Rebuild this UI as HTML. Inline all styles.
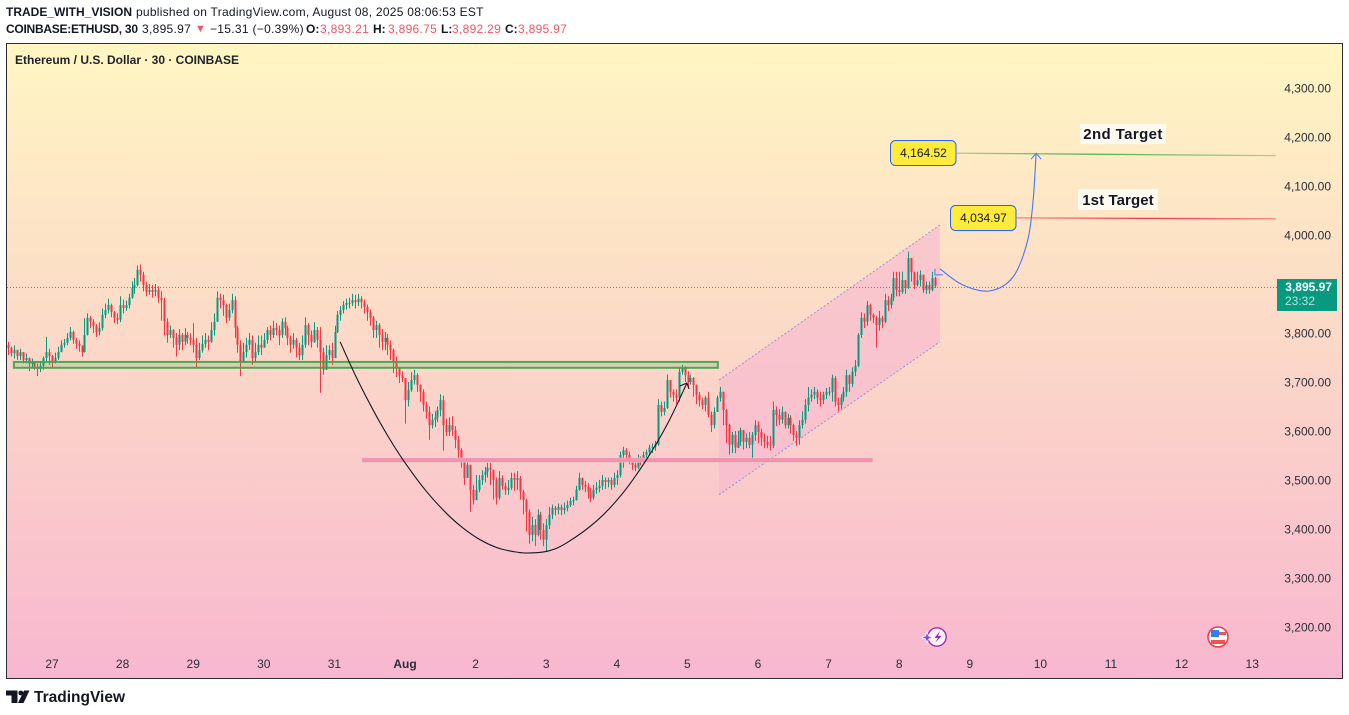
<!DOCTYPE html>
<html lang="en">
<head>
<meta charset="utf-8">
<title>ETHUSD chart</title>
<style>
html,body{margin:0;padding:0;background:#fff;width:1349px;height:715px;overflow:hidden}
body{position:relative;font-family:"Liberation Sans","DejaVu Sans",sans-serif;color:#131722}
.hdr{position:absolute;font-size:12px;line-height:16px;white-space:nowrap;color:#131722}
.b{font-weight:700}
.n{letter-spacing:.3px}
.r{color:#f7525f}
#chart{position:absolute;left:0;top:0}
text{font-family:"Liberation Sans","DejaVu Sans",sans-serif}
</style>
</head>
<body>
<div class="hdr b" style="left:6px;top:4px">TRADE_WITH_VISION</div>
<div class="hdr" style="left:136px;top:4px;letter-spacing:.26px">published on TradingView.com, August 08, 2025 08:06:53 EST</div>

<div class="hdr b" style="left:6px;top:21px;letter-spacing:-.26px">COINBASE:ETHUSD, 30</div>
<div class="hdr n" style="left:142px;top:21px">3,895.97</div>
<div class="hdr r" style="left:195px;top:21px;font-size:11px">▼</div>
<div class="hdr n" style="left:210px;top:21px">−15.31 (−0.39%)</div>
<div class="hdr b" style="left:306px;top:21px">O:</div>
<div class="hdr n r" style="left:320px;top:21px">3,893.21</div>
<div class="hdr b" style="left:373px;top:21px">H:</div>
<div class="hdr n r" style="left:388px;top:21px">3,896.75</div>
<div class="hdr b" style="left:441px;top:21px">L:</div>
<div class="hdr n r" style="left:452px;top:21px">3,892.29</div>
<div class="hdr b" style="left:505px;top:21px">C:</div>
<div class="hdr n r" style="left:518px;top:21px">3,895.97</div>

<svg id="chart" width="1349" height="715" viewBox="0 0 1349 715" style="pointer-events:none" xmlns="http://www.w3.org/2000/svg">
  <defs>
    <linearGradient id="bgGrad" x1="0" y1="0" x2="0" y2="1">
      <stop offset="0" stop-color="#fff6c2"/>
      <stop offset="1" stop-color="#f8b7cf"/>
    </linearGradient>
    <linearGradient id="greenFade" x1="0" y1="0" x2="1" y2="0">
      <stop offset="0" stop-color="#4caf50" stop-opacity=".45"/>
      <stop offset=".4" stop-color="#4caf50" stop-opacity="1"/>
      <stop offset="1" stop-color="#4caf50" stop-opacity=".45"/>
    </linearGradient>
    <linearGradient id="redFade" x1="0" y1="0" x2="1" y2="0">
      <stop offset="0" stop-color="#f23645" stop-opacity=".55"/>
      <stop offset=".5" stop-color="#f23645" stop-opacity="1"/>
      <stop offset="1" stop-color="#f23645" stop-opacity=".55"/>
    </linearGradient>
  </defs>
  <rect x="6.5" y="43.5" width="1336" height="635" fill="url(#bgGrad)" stroke="#2a2e39" stroke-width="1"/>
  <g id="channelLayer"></g>
  <g id="candleLayer"></g>
  <g id="overlayLayer"></g>
  <g id="axisLayer"></g>

  <g>
    <rect x="1080" y="124" width="86" height="20" fill="#fffaf0"/>
    <text x="1123" y="139" text-anchor="middle" font-size="15" font-weight="700" letter-spacing=".4" fill="#131722">2nd Target</text>
  </g>
  <g>
    <rect x="1078" y="189" width="80" height="21" fill="#fffaf0"/>
    <text x="1118" y="205" text-anchor="middle" font-size="15" font-weight="700" letter-spacing=".1" fill="#131722">1st Target</text>
  </g>
  <g>
    <rect x="890.5" y="140.5" width="65.5" height="25" rx="5" fill="#ffeb3b" stroke="#2962ff"/>
    <text x="923.5" y="157" text-anchor="middle" font-size="12" fill="#131722">4,164.52</text>
  </g>
  <g>
    <rect x="950.5" y="205.5" width="65.5" height="25" rx="5" fill="#ffeb3b" stroke="#2962ff"/>
    <text x="983.5" y="222" text-anchor="middle" font-size="12" fill="#131722">4,034.97</text>
  </g>

  <text x="15" y="64" font-size="12" font-weight="700" fill="#1f222b" textLength="224" lengthAdjust="spacingAndGlyphs">Ethereum / U.S. Dollar · 30 · COINBASE</text>

  <g>
    <rect x="1277" y="279" width="60" height="32" fill="#089981"/>
    <text x="1332" y="291" text-anchor="end" font-size="12" font-weight="700" fill="#fff">3,895.97</text>
    <text x="1285" y="305" font-size="12" fill="#b5e3d8">23:32</text>
  </g>

  <g>
    <circle cx="937" cy="637" r="10" fill="#fff"/>
    <circle cx="937" cy="637" r="9.2" fill="#fdf2fb" stroke="#9c27b0" stroke-width="1.4"/>
    <path d="M940 631 L934.5 638 H938 L935 643 L941.5 636 H938 Z" fill="#9c27b0"/>
    <path d="M927 632 L928.6 636 L932.5 637.5 L928.6 639 L927 643 L925.4 639 L921.5 637.5 L925.4 636 Z" fill="#7c4dff" stroke="#fff" stroke-width=".8"/>
  </g>
  <g>
    <circle cx="1218" cy="637" r="10" fill="#fff" stroke="#f23645" stroke-width="1.5"/>
    <rect x="1211" y="632" width="15" height="3" fill="#ef5350"/>
    <rect x="1211" y="640" width="14" height="4" fill="#ef5350"/>
    <rect x="1211" y="630" width="8" height="7" fill="#2f80ed"/>
  </g>

  <g>
    <path d="M6 690.5 H17.5 V703 H11.5 V695.5 H6 Z" fill="#131722"/>
    <circle cx="20.8" cy="693" r="2.4" fill="#131722"/>
    <path d="M24 690.5 H29.5 L23.5 703 H18 Z" fill="#131722"/>
    <text x="34" y="702" font-size="16" font-weight="700" fill="#131722" textLength="91" lengthAdjust="spacingAndGlyphs">TradingView</text>
  </g>
</svg>

<script>
// ---- chart data (30-minute view, one entry ≈ 1 hour, starts Jul 26) ----
const firstOpen = 3775;
const closes = [
3770,3759,3765,3753,3761,3745,3749,3737,3741,3731,3727,3733,3749,3761,3753,
3741,3749,3761,3776,3780,3790,3802,3786,3778,3774,3761,3796,3831,3823,3814,3802,3810,3837,3847,3857,3843,3831,3827,3857,
3851,3857,3872,3892,3898,3929,3919,3898,3884,3888,3884,3888,3872,3867,3823,3796,3806,3790,3776,3796,3782,3796,3790,3786,
3776,3749,3765,3778,3786,3782,3806,3823,3872,3867,3857,3831,3847,3867,3810,3776,3741,3761,3776,3786,3749,3761,3776,3770,
3786,3806,3796,3810,3806,3796,3823,3810,3790,3776,3786,3770,3755,3776,3816,3796,3782,3806,3786,3761,3725,3755,3765,3749,
3802,3837,3847,3857,3861,3861,3867,3863,3870,3863,3853,3843,3831,3806,3816,3796,3782,3790,3776,3765,3741,3729,3714,3708,
3663,3684,3704,3714,3694,3680,3653,3639,3612,3623,3627,3643,3663,3612,3598,3612,3602,3582,3561,3537,3504,3531,3480,3459,
3480,3500,3510,3517,3525,3521,3500,3464,3504,3488,3480,3484,3504,3500,3504,3476,3459,3435,3388,3408,3388,3429,3398,3378,
3408,3429,3443,3439,3445,3439,3443,3449,3457,3459,3480,3504,3490,3486,3476,3464,3480,3484,3488,3500,3496,3500,3490,3504,
3510,3551,3561,3551,3545,3531,3525,3545,3537,3551,3557,3566,3568,3572,3653,3639,3647,3704,3680,3674,3668,3721,3729,3714,
3700,3708,3694,3674,3663,3653,3668,3633,3612,3639,3668,3680,3643,3612,3572,3592,3566,3578,3602,3578,3586,3572,3592,3612,
3598,3586,3578,3572,3570,3643,3633,3623,3639,3612,3627,3612,3592,3586,3612,3623,3653,3668,3674,3680,3668,3663,3674,3680,
3680,3708,3659,3653,3668,3680,3714,3696,3721,3733,3796,3831,3823,3857,3837,3831,3816,3831,3823,3867,3857,3872,3912,3888,
3884,3908,3892,3953,3924,3898,3908,3919,3888,3898,3888,3912,3895.97
];
const highs = [
3782,3772,3775,3766,3768,3760,3758,3750,3748,3742,3738,3742,3752,3792,3768,
3755,3760,3772,3785,3788,3800,3812,3805,3790,3785,3775,3830,3840,3835,3828,3818,3822,3850,3860,3870,3860,3845,3840,3875,
3868,3866,3880,3905,3912,3938,3940,3925,3905,3900,3898,3900,3895,3885,3872,3830,3815,3808,3800,3808,3800,3810,3802,3800,
3820,3790,3780,3795,3800,3795,3822,3840,3885,3880,3878,3860,3860,3880,3875,3815,3785,3780,3790,3800,3795,3780,3795,3795,
3800,3812,3815,3825,3820,3815,3830,3832,3815,3795,3800,3790,3780,3795,3832,3820,3805,3822,3812,3812,3770,3775,3775,3780,
3815,3845,3855,3865,3870,3872,3880,3878,3880,3875,3868,3858,3848,3835,3825,3820,3808,3802,3798,3785,3768,3752,3730,3722,
3705,3700,3720,3725,3718,3695,3685,3660,3650,3635,3640,3650,3675,3672,3625,3628,3630,3610,3590,3565,3545,3545,3530,3490,
3510,3510,3520,3527,3535,3535,3520,3505,3518,3510,3495,3500,3515,3515,3518,3508,3480,3462,3440,3425,3420,3440,3435,3412,
3420,3445,3450,3447,3452,3450,3454,3458,3464,3466,3488,3515,3505,3498,3494,3484,3490,3496,3500,3510,3505,3505,3505,3515,
3520,3558,3568,3565,3558,3545,3540,3552,3548,3558,3562,3572,3575,3580,3665,3660,3660,3715,3695,3685,3685,3730,3735,3732,
3722,3715,3710,3695,3680,3668,3672,3680,3640,3648,3672,3690,3680,3645,3615,3598,3600,3600,3607,3600,3595,3598,3598,3622,
3620,3605,3595,3590,3590,3660,3650,3645,3650,3640,3635,3632,3615,3600,3622,3640,3665,3690,3685,3690,3685,3680,3680,3688,
3690,3715,3712,3668,3675,3690,3725,3715,3730,3745,3800,3842,3840,3865,3860,3840,3835,3845,3835,3880,3875,3880,3925,3925,
3925,3925,3900,3966,3950,3925,3925,3928,3910,3905,3905,3925,3915
];
const lows = [
3755,3752,3748,3745,3745,3738,3738,3722,3730,3725,3712,3720,3725,3742,3735,
3728,3738,3745,3762,3770,3775,3785,3778,3768,3762,3752,3760,3795,3810,3800,3792,3795,3805,3830,3840,3832,3820,3818,3822,
3840,3845,3850,3870,3880,3895,3905,3885,3875,3878,3872,3875,3862,3825,3795,3780,3790,3770,3752,3765,3765,3775,3778,3775,
3760,3730,3745,3760,3770,3765,3780,3795,3825,3850,3835,3820,3825,3840,3790,3760,3712,3740,3750,3765,3735,3740,3755,3755,
3770,3778,3785,3790,3795,3775,3790,3795,3775,3760,3768,3750,3745,3745,3770,3775,3770,3780,3770,3678,3715,3740,3745,3735,
3790,3800,3825,3840,3848,3850,3855,3850,3855,3850,3840,3825,3815,3790,3790,3770,3765,3765,3755,3745,3718,3710,3698,3700,
3615,3650,3680,3695,3680,3660,3640,3625,3582,3605,3608,3618,3630,3560,3590,3590,3590,3565,3542,3525,3490,3505,3435,3450,
3470,3475,3490,3495,3505,3490,3460,3450,3460,3480,3470,3470,3480,3478,3480,3460,3430,3395,3370,3375,3365,3385,3378,3365,
3354,3400,3420,3428,3430,3428,3430,3436,3445,3448,3458,3478,3480,3475,3462,3455,3460,3472,3475,3480,3482,3485,3480,3485,
3490,3505,3525,3540,3532,3520,3518,3522,3530,3535,3545,3550,3555,3560,3570,3630,3632,3645,3668,3660,3655,3660,3715,3700,
3690,3695,3670,3655,3650,3645,3640,3628,3598,3605,3640,3660,3612,3575,3552,3555,3555,3565,3570,3562,3565,3565,3545,3580,
3575,3570,3565,3565,3560,3565,3610,3612,3615,3605,3605,3595,3580,3570,3572,3605,3615,3640,3660,3665,3655,3650,3655,3665,
3672,3660,3650,3640,3645,3660,3670,3680,3690,3712,3730,3790,3810,3815,3825,3820,3770,3805,3810,3820,3845,3850,3865,3875,
3875,3880,3880,3890,3905,3890,3895,3895,3882,3880,3880,3885,3892
];
const priceTicks = [4300,4200,4100,4000,3800,3700,3600,3500,3400,3300,3200];
const timeLabels = ["27","28","29","30","31","Aug","2","3","4","5","6","7","8","9","10","11","12","13"];
const lastPrice = 3895.97;

// drawing tools, expressed as [bar index, price]
const resistanceZone = [[2,3741],[241.3,3729]];
const supportZone = [[120.3,3545],[294,3536]];
const channelTop = [[241.7,3704],[316.8,4020.5]];
const channelBottom = [[241.7,3470],[316.8,3782]];
const cupCurve = [[112.9,3782],[118.3,3711],[124.1,3643],[129.2,3589],[134.3,3541],[141.8,3480],[149.2,3431],[154.7,3402],[160.5,3378],[166.2,3362],[171.7,3354],[176.4,3351],[183.6,3355],[190,3372],[200.2,3417],[208.7,3471],[217.2,3543],[224.4,3617],[230.8,3698]];
const projectionCurve = [[316.8,3931],[324.6,3898],[333.8,3886],[341.6,3914],[346.4,3984],[348.4,4065],[349.5,4167]];
const target2Line = [[322.6,4167],[431,4162]];
const target1Line = [[342.9,4034.97],[431,4033]];

// ---- axes ----
const BAR_STEP = 2.9417, X0 = 8;
const xScale = i => X0 + BAR_STEP * i;
const yScale = p => 88 + (4300 - p) * 0.49;
const dayX = k => 52 + 70.6 * k;
const fmt = v => v.toLocaleString("en-US", {minimumFractionDigits:2, maximumFractionDigits:2});

const NS = "http://www.w3.org/2000/svg";
function mk(tag, parent, attrs) {
  const e = document.createElementNS(NS, tag);
  for (const k in attrs) e.setAttribute(k, attrs[k]);
  parent.appendChild(e);
  return e;
}
const channelLayer = document.getElementById("channelLayer");
const candleLayer = document.getElementById("candleLayer");
const overlayLayer = document.getElementById("overlayLayer");
const axisLayer = document.getElementById("axisLayer");

// ---- rising channel (behind candles) ----
const chFill = mk("polygon", channelLayer, {
  points: [channelTop[0], channelTop[1], channelBottom[1], channelBottom[0]].map(p => xScale(p[0]) + "," + yScale(p[1])).join(" "),
  fill: "#f7b8d0", "fill-opacity": ".62"
});


[channelTop, channelBottom].forEach((seg, n) => {
  const l = mk("line", channelLayer, {
    x1: xScale(seg[0][0]), y1: yScale(seg[0][1]), x2: xScale(seg[1][0]), y2: yScale(seg[1][1]),
    stroke: "#6f7fe8", "stroke-opacity": ".75", "stroke-width": 1, "stroke-dasharray": "2 2"
  });
  
  
});

// ---- last price dotted line ----
const lastLine = mk("line", channelLayer, {
  x1: 7, x2: 1277, y1: Math.round(yScale(lastPrice)) + 1.5, y2: Math.round(yScale(lastPrice)) + 1.5,
  stroke: "#089981", "stroke-opacity": ".8", "stroke-width": 1, "stroke-dasharray": "1 2"
});



// ---- candles ----
closes.forEach((c, i) => {
  const o = i === 0 ? firstOpen : closes[i - 1];
  const up = c >= o;
  const col = up ? "#089981" : "#f23645";
  const x = Math.round(xScale(i));
  const hi = Math.max(highs[i], o, c), lo = Math.min(lows[i], o, c);
  const g = mk("g", candleLayer, {});
  
  
  const w = mk("rect", g, {x: x, y: yScale(hi), width: 1, height: Math.max(1, yScale(lo) - yScale(hi)), fill: col});
  
  
  const top = yScale(Math.max(o, c)), bot = yScale(Math.min(o, c));
  const b = mk("rect", g, {x: x - .5, y: top, width: 2, height: Math.max(1, bot - top), fill: col});
  
  
});

// ---- zones ----
const rz = mk("rect", overlayLayer, {
  x: xScale(resistanceZone[0][0]), y: yScale(resistanceZone[0][1]),
  width: xScale(resistanceZone[1][0]) - xScale(resistanceZone[0][0]),
  height: yScale(resistanceZone[1][1]) - yScale(resistanceZone[0][1]),
  fill: "#4caf50", "fill-opacity": ".2", stroke: "#3fa34a", "stroke-width": 2, "stroke-opacity": ".92"
});


const sz = mk("rect", overlayLayer, {
  x: xScale(supportZone[0][0]), y: yScale(supportZone[0][1]),
  width: xScale(supportZone[1][0]) - xScale(supportZone[0][0]),
  height: yScale(supportZone[1][1]) - yScale(supportZone[0][1]),
  fill: "#f48fb1", stroke: "#cfe0c4", "stroke-width": .8, "stroke-opacity": ".5"
});



// ---- smooth curves ----
function smooth(pts) {
  const P = pts.map(p => [xScale(p[0]), yScale(p[1])]);
  let d = "M" + P[0].join(" ");
  for (let i = 0; i < P.length - 1; i++) {
    const a = P[Math.max(0, i - 1)], b = P[i], c = P[i + 1], e = P[Math.min(P.length - 1, i + 2)];
    d += " C" + (b[0] + (c[0] - a[0]) / 6) + " " + (b[1] + (c[1] - a[1]) / 6) + " " +
         (c[0] - (e[0] - b[0]) / 6) + " " + (c[1] - (e[1] - b[1]) / 6) + " " + c[0] + " " + c[1];
  }
  return d;
}
const cup = mk("path", overlayLayer, {d: smooth(cupCurve), fill: "none", stroke: "#131722", "stroke-width": 1.1});


const cupEnd = cupCurve[cupCurve.length - 1];
const cx = xScale(cupEnd[0]), cy = yScale(cupEnd[1]);
const cupHead = mk("path", overlayLayer, {d: `M${cx - 7} ${cy + 3} L${cx} ${cy} L${cx + 2} ${cy + 6}`, fill: "none", stroke: "#131722", "stroke-width": 1.1});



const proj = mk("path", overlayLayer, {d: smooth(projectionCurve), fill: "none", stroke: "#2962ff", "stroke-width": 1.1, "stroke-opacity": ".85"});


const pe = projectionCurve[projectionCurve.length - 1];
const px = xScale(pe[0]), py = yScale(pe[1]);
const projHead = mk("path", overlayLayer, {d: `M${px - 5} ${py + 6} L${px} ${py} L${px + 5} ${py + 6}`, fill: "none", stroke: "#2962ff", "stroke-width": 1, "stroke-opacity": ".85"});


const ps = projectionCurve[0];
const sx = xScale(ps[0]), sy = yScale(ps[1]);
const projTail = mk("path", overlayLayer, {d: `M${sx - 5} ${sy} V${sy + 6} H${sx + 3}`, fill: "none", stroke: "#5b7cf5", "stroke-width": 1.1});



// ---- target lines ----
const tl2 = mk("line", overlayLayer, {x1: xScale(target2Line[0][0]), y1: yScale(target2Line[0][1]), x2: xScale(target2Line[1][0]), y2: yScale(target2Line[1][1]) + .01, stroke: "url(#greenFade)", "stroke-width": 1.3});


const tl1 = mk("line", overlayLayer, {x1: xScale(target1Line[0][0]), y1: yScale(target1Line[0][1]), x2: xScale(target1Line[1][0]), y2: yScale(target1Line[1][1]) + .01, stroke: "url(#redFade)", "stroke-width": 1.3});



// ---- axis labels ----
priceTicks.forEach(p => {
  const t = mk("text", axisLayer, {x: 1331, y: yScale(p) + 4.5, "text-anchor": "end", "font-size": 12, fill: "#2a2e39"});
  t.textContent = fmt(p);
  
  
});
timeLabels.forEach((lab, k) => {
  const t = mk("text", axisLayer, {x: dayX(k), y: 668, "text-anchor": "middle", "font-size": 12, fill: "#2a2e39", "font-weight": lab === "Aug" ? 700 : 400});
  t.textContent = lab;
  
  
});
</script>
</body>
</html>
